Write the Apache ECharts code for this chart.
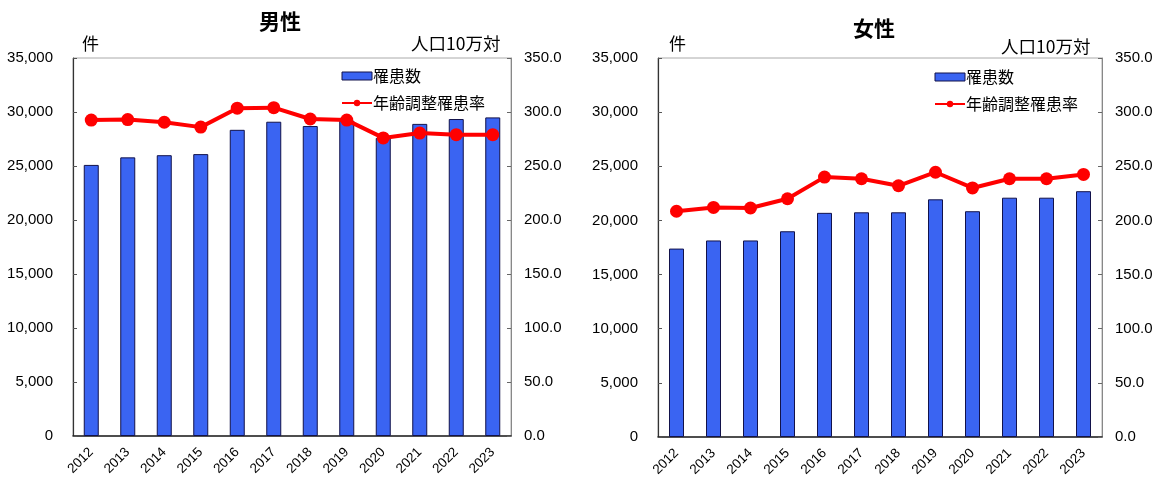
<!DOCTYPE html>
<html><head><meta charset="utf-8">
<script src="https://cdn.jsdelivr.net/npm/echarts@6/dist/echarts.min.js"></script>
<style>html,body{margin:0;padding:0;background:#fff}#c{width:1162px;height:480px}</style>
</head><body><div id="c"></div>
<script>
const years = ['2012','2013','2014','2015','2016','2017','2018','2019','2020','2021','2022','2023'];
const maleCases = [25100, 25800, 26000, 26100, 28350, 29100, 28700, 29200, 27600, 28900, 29350, 29500];
const maleRate = [292.5, 293.0, 290.5, 286.0, 303.5, 304.0, 293.5, 292.5, 276.0, 280.5, 279.0, 279.0];
const femaleCases = [17400, 18150, 18150, 19000, 20700, 20750, 20750, 21950, 20850, 22100, 22100, 22700];
const femaleRate = [208.5, 212.0, 211.5, 220.0, 240.0, 238.5, 232.0, 244.5, 230.0, 238.5, 238.5, 242.5];
const titles = ['男性', '女性'];
const leftUnit = '件';
const rightUnit = '人口10万対';
const seriesNames = ['罹患数', '年齢調整罹患率'];

const FONT = '"Liberation Sans", "Noto Sans CJK JP", sans-serif';
const JP = '"Noto Sans CJK JP", sans-serif';
const chart = echarts.init(document.getElementById('c'));

const grids = [
  {left: 73, top: 58, width: 438, height: 378},
  {left: 658, top: 58, width: 444, height: 379}
];

function xAx(i){
  return {type:'category', gridIndex:i, data:years, boundaryGap:true,
    axisLine:{lineStyle:{color:'#222', width:1.5}},
    axisTick:{inside:true, length:4, lineStyle:{color:'#555'}},
    axisLabel:{rotate:45, fontSize:13.5, color:'#000', fontFamily:FONT, margin:14},
    splitLine:{show:false}};
}
function yLeft(i){
  return {type:'value', gridIndex:i, min:0, max:35000, interval:5000, position:'left',
    axisLine:{show:true, lineStyle:{color:'#333', width:1.2}},
    axisTick:{show:true, inside:true, length:4, lineStyle:{color:'#555'}},
    axisLabel:{fontSize:15, color:'#000', fontFamily:FONT, margin:20,
      formatter: v => v.toLocaleString('en-US')},
    splitLine:{show:false}};
}
function yRight(i){
  return {type:'value', gridIndex:i, min:0, max:350, interval:50, position:'right',
    axisLine:{show:true, lineStyle:{color:'#888', width:1}},
    axisTick:{show:true, inside:true, length:4, lineStyle:{color:'#666'}},
    axisLabel:{fontSize:15, color:'#000', fontFamily:FONT, margin:13,
      formatter: v => v.toFixed(1)},
    splitLine:{show:false}};
}
function barS(xi, yi, data){
  return {name:seriesNames[0], type:'bar', xAxisIndex:xi, yAxisIndex:yi, data:data,
    barWidth:15, itemStyle:{color:'#3a64f2', borderColor:'#12124a', borderWidth:1}, z:2};
}
function lineS(xi, yi, data){
  return {name:seriesNames[1], type:'line', xAxisIndex:xi, yAxisIndex:yi, data:data,
    symbol:'circle', symbolSize:13, lineStyle:{color:'#ff0000', width:4},
    itemStyle:{color:'#ff0000'}, z:3};
}
function legend(left, top){
  return {left:left, top:top, orient:'vertical', itemWidth:30, itemHeight:8, itemGap:11,
    data:[{name:seriesNames[0], icon:'rect', itemStyle:{color:'#3a64f2', borderColor:'#12124a', borderWidth:1}},
          {name:seriesNames[1]}],
    textStyle:{fontSize:16, color:'#000', fontFamily:JP, padding:[0,0,0,-4]}};
}
chart.setOption({
  animation:false,
  backgroundColor:'#fff',
  grid: grids.map(g => Object.assign({show:true, borderColor:'#aaa', borderWidth:1, backgroundColor:'transparent'}, g)),
  xAxis:[xAx(0), xAx(1)],
  yAxis:[yLeft(0), yRight(0), yLeft(1), yRight(1)],
  legend:[legend(336, 63), legend(929, 64)],
  title:[
    {text:titles[0], left:275, top:6, textAlign:'center', textStyle:{fontSize:21, fontWeight:'bold', fontFamily:JP, color:'#000'}},
    {text:titles[1], left:869, top:13, textAlign:'center', textStyle:{fontSize:21, fontWeight:'bold', fontFamily:JP, color:'#000'}},
    {text:leftUnit, left:77, top:30, textStyle:{fontSize:17, fontWeight:'normal', fontFamily:JP, color:'#000'}},
    {text:leftUnit, left:664, top:30, textStyle:{fontSize:17, fontWeight:'normal', fontFamily:JP, color:'#000'}},
    {text:rightUnit, left:406, top:30, textStyle:{fontSize:17.5, fontWeight:'normal', fontFamily:JP, color:'#000'}},
    {text:rightUnit, left:996, top:33, textStyle:{fontSize:17.5, fontWeight:'normal', fontFamily:JP, color:'#000'}}
  ],
  series:[barS(0,0,maleCases), lineS(0,1,maleRate), barS(1,2,femaleCases), lineS(1,3,femaleRate)]
});
</script></body></html>
